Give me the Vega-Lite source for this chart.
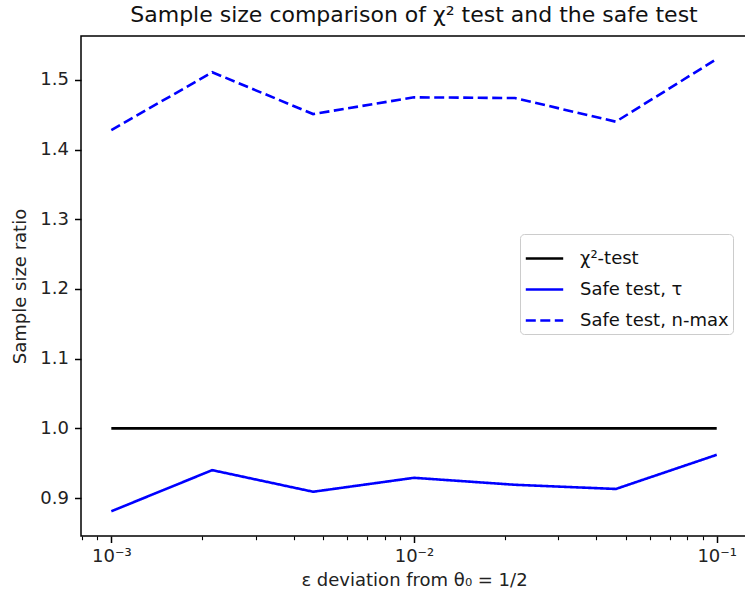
{
  "$schema": "https://vega.github.io/schema/vega-lite/v6.json",
  "autosize": "none",
  "width": 666,
  "height": 500,
  "padding": {"left": 81, "top": 36, "right": 0, "bottom": 70},
  "background": "white",
  "config": {
    "font": "DejaVu Sans",
    "view": {"stroke": "black", "strokeWidth": 1.5},
    "axis": {"grid": false, "domain": false, "tickColor": "black", "tickWidth": 1.5, "labelColor": "#222", "titleColor": "#222", "labelFont": "DejaVu Sans", "titleFont": "DejaVu Sans", "labelFontSize": 18, "titleFontSize": 18, "titleFontWeight": "normal"}
  },
  "title": {"text": "Sample size comparison of χ² test and the safe test", "fontSize": 22, "fontWeight": "normal", "color": "#111", "anchor": "middle", "offset": 9, "font": "DejaVu Sans"},
  "data": {"values": [
    {"eps": 0.001, "ratio": 1.0, "series": "χ²-test"},
    {"eps": 0.00215443, "ratio": 1.0, "series": "χ²-test"},
    {"eps": 0.00464159, "ratio": 1.0, "series": "χ²-test"},
    {"eps": 0.01, "ratio": 1.0, "series": "χ²-test"},
    {"eps": 0.0215443, "ratio": 1.0, "series": "χ²-test"},
    {"eps": 0.0464159, "ratio": 1.0, "series": "χ²-test"},
    {"eps": 0.1, "ratio": 1.0, "series": "χ²-test"},
    {"eps": 0.001, "ratio": 0.881, "series": "Safe test, τ"},
    {"eps": 0.00215443, "ratio": 0.940, "series": "Safe test, τ"},
    {"eps": 0.00464159, "ratio": 0.909, "series": "Safe test, τ"},
    {"eps": 0.01, "ratio": 0.929, "series": "Safe test, τ"},
    {"eps": 0.0215443, "ratio": 0.919, "series": "Safe test, τ"},
    {"eps": 0.0464159, "ratio": 0.913, "series": "Safe test, τ"},
    {"eps": 0.1, "ratio": 0.962, "series": "Safe test, τ"},
    {"eps": 0.001, "ratio": 1.428, "series": "Safe test, n-max"},
    {"eps": 0.00215443, "ratio": 1.511, "series": "Safe test, n-max"},
    {"eps": 0.00464159, "ratio": 1.451, "series": "Safe test, n-max"},
    {"eps": 0.01, "ratio": 1.475, "series": "Safe test, n-max"},
    {"eps": 0.0215443, "ratio": 1.474, "series": "Safe test, n-max"},
    {"eps": 0.0464159, "ratio": 1.440, "series": "Safe test, n-max"},
    {"eps": 0.1, "ratio": 1.530, "series": "Safe test, n-max"}
  ]},
  "mark": {"type": "line", "strokeWidth": 2.6, "clip": true},
  "encoding": {
    "x": {
      "field": "eps", "type": "quantitative",
      "scale": {"type": "log", "domain": [0.000794, 0.1259], "nice": false},
      "axis": {
        "title": "ε deviation from θ₀ = 1/2",
        "titlePadding": 6,
        "values": [0.0008, 0.0009, 0.001, 0.002, 0.003, 0.004, 0.005, 0.006, 0.007, 0.008, 0.009, 0.01, 0.02, 0.03, 0.04, 0.05, 0.06, 0.07, 0.08, 0.09, 0.1],
        "labelExpr": "abs(log(datum.value)/LN10 - round(log(datum.value)/LN10)) < 0.001 ? (round(log(datum.value)/LN10) == -3 ? '10⁻³' : (round(log(datum.value)/LN10) == -2 ? '10⁻²' : '10⁻¹')) : ''",
        "tickSize": {"condition": {"test": "abs(log(datum.value)/LN10 - round(log(datum.value)/LN10)) < 0.001", "value": 6.5}, "value": 3.7},
        "tickWidth": {"condition": {"test": "abs(log(datum.value)/LN10 - round(log(datum.value)/LN10)) < 0.001", "value": 1.5}, "value": 1.1},
        "labelPadding": 5,
        "labelFlush": false,
        "labelOverlap": false
      }
    },
    "y": {
      "field": "ratio", "type": "quantitative",
      "scale": {"domain": [0.8455, 1.563], "nice": false, "zero": false},
      "axis": {"title": "Sample size ratio", "values": [0.9, 1.0, 1.1, 1.2, 1.3, 1.4, 1.5], "format": ".1f", "tickSize": 6.5, "labelPadding": 6, "titlePadding": 10, "labelFlush": false}
    },
    "color": {
      "field": "series", "type": "nominal",
      "scale": {"domain": ["χ²-test", "Safe test, τ", "Safe test, n-max"], "range": ["black", "#0000ff", "#0000ff"]},
      "legend": {
        "title": null, "orient": "none", "legendX": 439, "legendY": 198,
        "symbolType": "stroke", "symbolSize": 1400, "symbolStrokeWidth": 2.6,
        "labelFontSize": 18, "labelColor": "#111", "labelFont": "DejaVu Sans",
        "rowPadding": 1, "padding": 4, "strokeColor": "#cccccc", "fillColor": "white", "cornerRadius": 4,
        "labelOffset": 15, "labelLimit": 300
      }
    },
    "strokeDash": {
      "field": "series", "type": "nominal",
      "scale": {"domain": ["χ²-test", "Safe test, τ", "Safe test, n-max"], "range": [[1, 0], [1, 0], [10, 4.5]]},
      "legend": {
        "title": null, "orient": "none", "legendX": 439, "legendY": 198,
        "symbolType": "stroke", "symbolSize": 1400, "symbolStrokeWidth": 2.6,
        "labelFontSize": 18, "labelColor": "#111", "labelFont": "DejaVu Sans",
        "rowPadding": 1, "padding": 4, "strokeColor": "#cccccc", "fillColor": "white", "cornerRadius": 4,
        "labelOffset": 15, "labelLimit": 300
      }
    }
  }
}
